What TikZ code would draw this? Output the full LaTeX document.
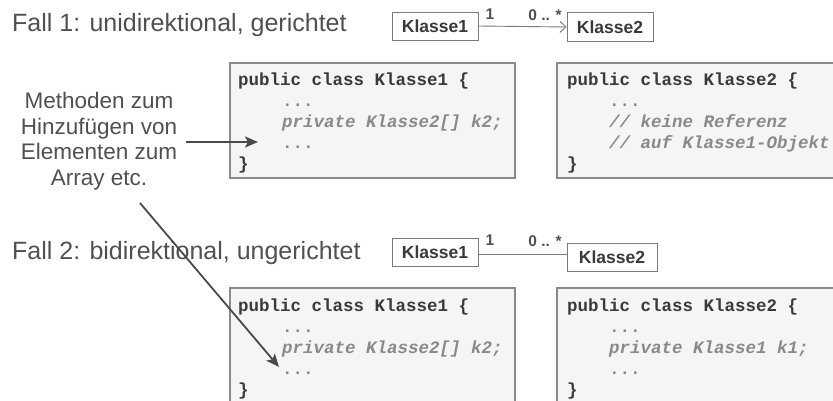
\documentclass[tikz,border=0pt]{standalone}
\usepackage{fontspec}
\setmainfont{Liberation Sans}
\newfontfamily\codefont{Liberation Mono}
\usetikzlibrary{arrows.meta}
\definecolor{txtgray}{HTML}{505050}
\definecolor{codedark}{HTML}{3A3A3A}
\definecolor{codelight}{HTML}{8A8A8A}
\definecolor{codefill}{HTML}{F5F5F5}
\definecolor{codeborder}{HTML}{8A8A8A}
\definecolor{boxborder}{HTML}{7A7A7A}
\definecolor{arrowgray}{HTML}{4A4A4A}
\tikzset{
  heading/.style={anchor=west, inner sep=0pt, text=txtgray, font=\fontsize{25}{30}\selectfont},
  umlbox/.style={draw=boxborder, line width=0.9pt, fill=white, inner sep=0pt,
    text=codedark, font=\fontsize{17.5}{20}\selectfont\bfseries},
  mult/.style={inner sep=0pt, text=txtgray, font=\fontsize{15.5}{18}\selectfont\bfseries},
  assoc/.style={draw=boxborder, line width=0.9pt},
  codebox/.style={draw=codeborder, line width=1.1pt, fill=codefill},
  codebold/.style={anchor=base west, inner sep=0pt, text=codedark, font=\codefont\fontsize{17.5}{21}\selectfont\bfseries},
  codeital/.style={anchor=base west, inner sep=0pt, text=codelight, font=\codefont\fontsize{17.5}{21}\selectfont\bfseries\itshape},
  codedots/.style={anchor=base west, inner sep=0pt, text=codelight, font=\codefont\fontsize{17.5}{21}\selectfont\bfseries},
  note/.style={align=center, inner sep=0pt, text=txtgray, font=\fontsize{22.5}{25.5}\selectfont},
  pointer/.style={draw=arrowgray, line width=2.2pt, -{Stealth[length=13pt,width=11pt,inset=3pt]}}
}
\begin{document}
\begin{tikzpicture}[x=1pt,y=-1pt]
\useasboundingbox (0,0) rectangle (833,401);
\clip (0,0) rectangle (833,401);

% ---------- Fall 1 ----------
\node[heading] (f1) at (12,25) {Fall 1: unidirektional, gerichtet};
\node[umlbox, minimum width=86pt, minimum height=28pt] (k11) at (435,26) {Klasse1};
\node[umlbox, minimum width=86pt, minimum height=29pt] (k12) at (610,27) {Klasse2};
\draw[assoc, -{Straight Barb[length=6pt,width=11pt]}] (k11.east) -- (k12.west);
\node[mult] (m11) at (490,14) {1};
\node[mult] (m12) at (545,15) {0 .. *};

\draw[codebox] (230,63) rectangle (515,178);
\node[codebold] (a1) at (238,86) {public class Klasse1 \{};
\node[codedots] (a2) at (282,107) {...};
\node[codeital] (a3) at (282,128) {private Klasse2[] k2;};
\node[codedots] (a4) at (282,149) {...};
\node[codebold] (a5) at (238,170) {\}};

\draw[codebox] (557,63) rectangle (845,178);
\node[codebold] (b1) at (567,86) {public class Klasse2 \{};
\node[codedots] (b2) at (609,107) {...};
\node[codeital] (b3) at (609,128) {// keine Referenz};
\node[codeital] (b4) at (609,149) {// auf Klasse1-Objekt};
\node[codebold] (b5) at (567,170) {\}};

% ---------- note ----------
\node[note] (note) at (99,141) {Methoden zum\\Hinzufügen von\\Elementen zum\\Array etc.};
\coordinate (p1s) at (186,142);
\coordinate (p1e) at (258,142);
\coordinate (p2s) at (140,203);
\coordinate (p2e) at (279,367);

% ---------- Fall 2 ----------
\node[heading] (f2) at (12,253) {Fall 2: bidirektional, ungerichtet};
\node[umlbox, minimum width=86pt, minimum height=28pt] (k21) at (435,252) {Klasse1};
\node[umlbox, minimum width=90pt, minimum height=28pt] (k22) at (612,257) {Klasse2};
\coordinate (l2a) at (478,254);
\coordinate (l2b) at (567,254);
\draw[assoc] (l2a) -- (l2b);
\node[mult] (m21) at (490,240) {1};
\node[mult] (m22) at (545,241) {0 .. *};

\draw[codebox] (230,288) rectangle (515,410);
\node[codebold] (c1) at (238,311) {public class Klasse1 \{};
\node[codedots] (c2) at (282,332) {...};
\node[codeital] (c3) at (282,353) {private Klasse2[] k2;};
\node[codedots] (c4) at (282,374) {...};
\node[codebold] (c5) at (238,395) {\}};

\draw[codebox] (557,288) rectangle (845,410);
\node[codebold] (d1) at (567,311) {public class Klasse2 \{};
\node[codedots] (d2) at (609,332) {...};
\node[codeital] (d3) at (609,353) {private Klasse1 k1;};
\node[codedots] (d4) at (609,374) {...};
\node[codebold] (d5) at (567,395) {\}};

% ---------- pointers ----------
\draw[pointer] (p1s) -- (p1e);
\draw[pointer, line width=1.8pt] (p2s) -- (p2e);
\end{tikzpicture}
\end{document}
